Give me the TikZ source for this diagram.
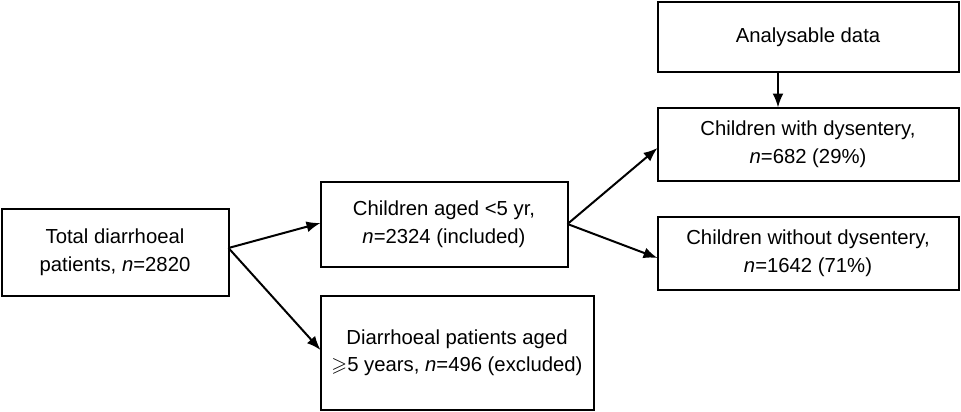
\documentclass[tikz,border=0pt]{standalone}
\usepackage{amssymb}
\usepackage{fontspec}
\setmainfont{Liberation Sans}
\usetikzlibrary{arrows.meta}
\begin{document}
\begin{tikzpicture}[x=1pt,y=-1pt,
  box/.style={draw,line width=2pt,rectangle,align=center,inner sep=0pt,outer sep=0pt,
    font=\fontsize{20.3}{27.5}\selectfont},
  arr/.style={line width=2pt,-{Latex[length=14pt,width=11pt]}}]
\useasboundingbox (0,0) rectangle (961,412);
\node[box,minimum width=227pt,minimum height=87pt] (tot) at (115,252) {Total diarrhoeal\\patients, \textit{n}=2820};
\node[box,minimum width=247pt,minimum height=85pt] (kid) at (444,224) {Children aged <5 yr,\\\textit{n}=2324 (included)};
\node[box,minimum width=273pt,minimum height=114pt] (exc) at (457,352.5) {Diarrhoeal patients aged\\$\geqslant$5 years, \textit{n}=496 (excluded)};
\node[box,minimum width=301pt,minimum height=70pt] (ana) at (808,37.5) {Analysable data};
\node[box,minimum width=301pt,minimum height=73pt] (dys) at (808,144) {Children with dysentery,\\\textit{n}=682 (29\%)};
\node[box,minimum width=301pt,minimum height=73pt] (nod) at (808,253) {Children without dysentery,\\\textit{n}=1642 (71\%)};
\coordinate (t1) at (tot.east |- 0,248);
\draw[arr] (t1) -- (kid.west |- 0,223);
\draw[arr] (t1) -- (exc.west |- 0,350);
\coordinate (k1) at (kid.east |- 0,224);
\draw[arr] (k1) -- (dys.west |- 0,148);
\draw[arr] (k1) -- (nod.west |- 0,258);
\draw[arr] (ana.south -| 778,0) -- (dys.north -| 778,0);
\end{tikzpicture}
\end{document}
